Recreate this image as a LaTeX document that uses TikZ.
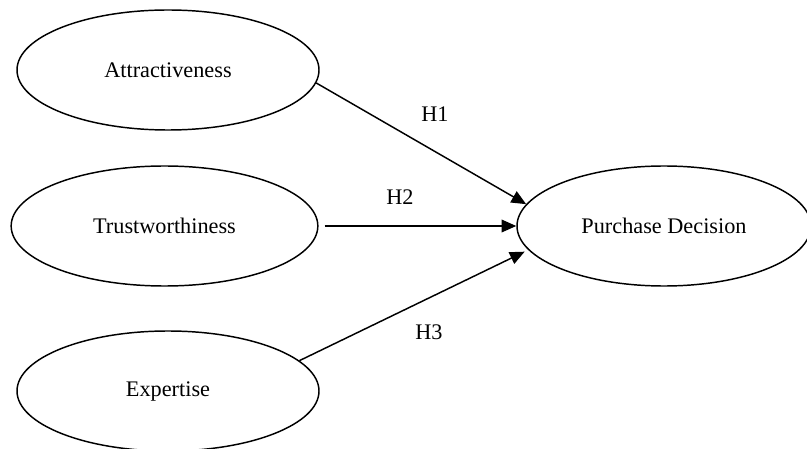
\documentclass[tikz,border=0pt]{standalone}
\usepackage{fontspec}
\setmainfont{Liberation Serif}
\usetikzlibrary{shapes.geometric,arrows.meta}

\tikzset{every picture/.style={line width=1.1pt}}
\tikzset{
  construct/.style={draw, ellipse, inner sep=0pt, font=\fontsize{16.7}{20}\selectfont},
  hyp/.style={-{Triangle[length=11pt,width=9.5pt]}},
  hlabel/.style={inner sep=0.75pt, font=\fontsize{16.7}{20}\selectfont}
}

\begin{document}
\begin{tikzpicture}[x=0.75pt,y=0.75pt,yscale=-1,xscale=1]
\useasboundingbox (0,0) rectangle (807,449);

%Shape: Ellipse, independent variables
\node[construct, minimum width=226.5pt, minimum height=90pt] (attr) at (168,70) {Attractiveness};
\node[construct, minimum width=230pt, minimum height=90pt] (trust) at (164.5,226) {Trustworthiness};
\node[construct, minimum width=226.5pt, minimum height=90pt] (exp) at (168,391) {Expertise};
%Shape: Ellipse, dependent variable
\node[construct, minimum width=220.5pt, minimum height=90pt] (pd) at (664,226) {Purchase Decision};

%Straight Lines with arrows
\draw[hyp] (attr.-5) -- (pd.171);
\draw[hyp, shorten <=4.5pt] (trust) -- (pd);
\draw[hyp, shorten >=3pt] (exp.13) -- (pd.190);

% Text Node
\node[hlabel] (h1) at (435,114) {H1};
% Text Node
\node[hlabel] (h2) at (400,197) {H2};
% Text Node
\node[hlabel] (h3) at (429,332) {H3};

\end{tikzpicture}
\end{document}
